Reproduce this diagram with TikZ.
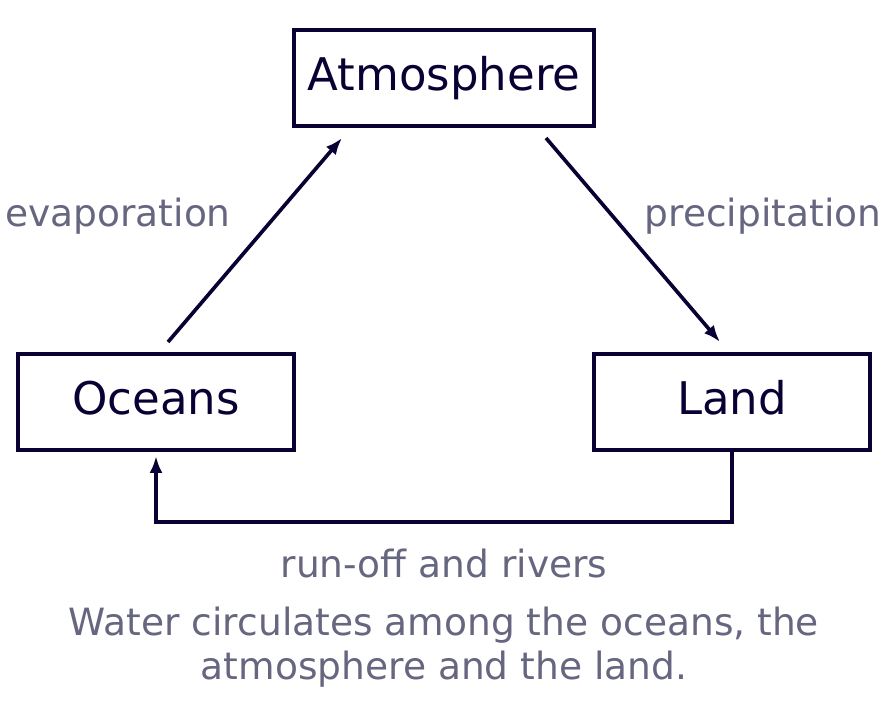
\documentclass[tikz,border=0pt]{standalone}
\usepackage{fontspec}
\setmainfont{DejaVu Sans}
\usetikzlibrary{arrows.meta,positioning}
\definecolor{navy}{HTML}{0A0033}
\definecolor{labelgray}{HTML}{666680}
\tikzstyle{box}   = [draw=navy, line width=2.6pt, text=navy, minimum height=2.4cm, font=\fontsize{32}{38}\selectfont, inner sep=0pt, text height=24pt, text depth=6.7pt]
\tikzstyle{arrow} = [draw=navy, line width=2.6pt, -{Latex[length=0.42cm,width=0.32cm]}]
\tikzstyle{flowlabel} = [text=labelgray, font=\fontsize{26.7}{31}\selectfont, align=center, inner sep=0pt]

\begin{document}
\begin{tikzpicture}[x=0.025cm, y=-0.025cm]
        \useasboundingbox (0,0) rectangle (888,702);
        \node[box, minimum width=7.5cm] (atm) at (444,78) {Atmosphere};
        \node[box, minimum width=6.9cm] (oceans) at (156,402) {Oceans};
        \node[box, minimum width=6.9cm] (land) at (732,402) {Land};

        \coordinate (evapfrom) at (168,342);
        \coordinate (evapto) at (342,138);
        \coordinate (precfrom) at (546,138);
        \coordinate (precto) at (720,342);
        \coordinate (runl) at (156,522);
        \coordinate (runr) at (732,522);
        \coordinate (runto) at (156,456);

        \draw[arrow] (evapfrom) -- (evapto);
        \draw[arrow] (precfrom) -- (precto);
        \draw[arrow] (land.south) -- (runr) -- (runl) -- (runto);

        \node[flowlabel] (evap) at (118,216) {evaporation};
        \node[flowlabel] (prec) at (763,216) {precipitation};
        \node[flowlabel] (runoff) at (444,563) {run-off and rivers};
        \node[flowlabel] (caption) at (444,647) {Water circulates among the oceans, the\\atmosphere and the land.};
    \end{tikzpicture}
\end{document}
